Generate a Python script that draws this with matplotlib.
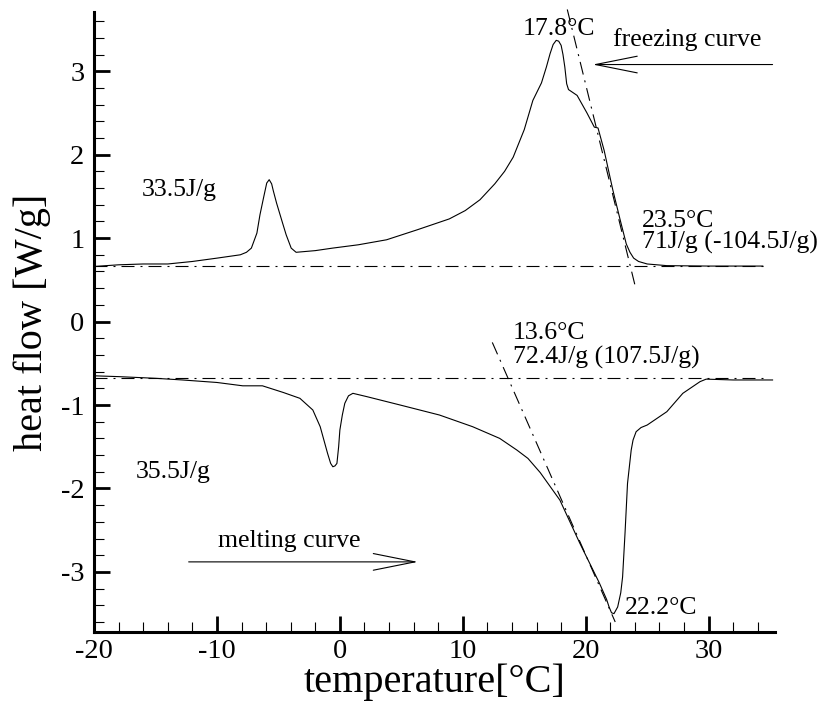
import matplotlib
matplotlib.use("Agg")
import matplotlib.pyplot as plt
from matplotlib.ticker import MultipleLocator

plt.rcParams['font.family'] = ['Liberation Serif', 'DejaVu Serif']
plt.rcParams['axes.unicode_minus'] = False

# freezing curve (upper)
T_freeze = [-20, -18, -16, -14, -12, -10, -8.1, -7.6, -7.2, -6.75, -6.5, -6.2, -5.95, -5.75,
            -5.55, -5.42, -5.15, -4.66, -4.37, -3.96, -3.56, -2.0, -0.6, 1.5, 3.8, 6.3, 8.9,
            10.2, 11.4, 12.6, 13.4, 14.1, 15.0, 15.7, 16.4, 16.8, 17.1, 17.35, 17.6, 17.8,
            18.0, 18.15, 18.3, 18.45, 18.6, 18.9, 19.3, 20.1, 20.7, 21.0, 21.5, 22.2, 22.8,
            23.3, 23.6, 23.9, 24.3, 25.0, 26.6, 30.0, 34.4]
H_freeze = [0.66, 0.68, 0.69, 0.69, 0.72, 0.76, 0.80, 0.83, 0.88, 1.06, 1.28, 1.49, 1.66, 1.70,
            1.65, 1.57, 1.42, 1.18, 1.04, 0.88, 0.83, 0.85, 0.88, 0.92, 0.98, 1.10, 1.23,
            1.33, 1.46, 1.65, 1.80, 1.97, 2.30, 2.65, 2.86, 3.05, 3.21, 3.32, 3.37, 3.36,
            3.31, 3.20, 3.05, 2.85, 2.78, 2.75, 2.71, 2.50, 2.33, 2.32, 2.05, 1.58, 1.22,
            0.93, 0.83, 0.76, 0.72, 0.69, 0.67, 0.665, 0.665]

# melting curve (lower)
T_melt = [-20, -18, -15, -12.8, -10, -7.9, -6.3, -4.6, -3.25, -2.2, -1.6, -1.3, -1.0, -0.75,
          -0.57, -0.4, -0.24, -0.1, 0.0, 0.2, 0.4, 0.7, 1.06, 2.2, 4.9, 8.1, 10.8, 13.0,
          14.4, 15.3, 16.3, 17.9, 19.5, 21.1, 21.7, 21.9, 22.1, 22.3, 22.6, 22.85, 23.0,
          23.2, 23.4, 23.7, 23.85, 24.1, 24.5, 25.0, 26.6, 27.9, 29.3, 29.8, 32.0, 35.2]
H_melt = [-0.65, -0.66, -0.68, -0.70, -0.73, -0.77, -0.77, -0.85, -0.92, -1.06, -1.26, -1.42,
          -1.58, -1.70, -1.74, -1.73, -1.70, -1.50, -1.30, -1.12, -0.98, -0.89, -0.86, -0.90,
          -1.00, -1.12, -1.26, -1.40, -1.54, -1.64, -1.81, -2.14, -2.65, -3.13, -3.33, -3.42,
          -3.49, -3.50, -3.42, -3.25, -3.06, -2.53, -1.94, -1.54, -1.42, -1.32, -1.27, -1.24,
          -1.08, -0.86, -0.72, -0.69, -0.70, -0.70]

# baselines and onset tangents
base_freeze_T, base_freeze_H = [-20, 34.4], [0.665, 0.665]
base_melt_T, base_melt_H = [-20, 34.7], [-0.677, -0.677]
tan_freeze_T, tan_freeze_H = [18.5, 24.0], [3.74, 0.44]
tan_melt_T, tan_melt_H = [12.4, 22.4], [-0.25, -3.60]

dashdot = (0, (11.7, 5.4, 1.8, 5.4))

fig = plt.figure(figsize=(8.19, 7.04), dpi=100)
ax = fig.add_axes([0.1148, 0.1023, 0.8315, 0.8807])

ax.plot(T_freeze, H_freeze, color='black', lw=0.8)
ax.plot(T_melt, H_melt, color='black', lw=0.8)
ax.plot(base_freeze_T, base_freeze_H, color='black', lw=0.8, ls=dashdot)
ax.plot(base_melt_T, base_melt_H, color='black', lw=0.8, ls=dashdot)
ax.plot(tan_freeze_T, tan_freeze_H, color='black', lw=0.8, ls=dashdot, clip_on=False)
ax.plot(tan_melt_T, tan_melt_H, color='black', lw=0.8, ls=dashdot)

ax.set_xlim(-20, 35.4)
ax.set_ylim(-3.72, 3.71)

for s in ['top', 'right']:
    ax.spines[s].set_visible(False)
for s in ['left', 'bottom']:
    ax.spines[s].set_linewidth(2.2)

ax.xaxis.set_major_locator(MultipleLocator(10))
ax.xaxis.set_minor_locator(MultipleLocator(2))
ax.yaxis.set_major_locator(MultipleLocator(1))
ax.yaxis.set_minor_locator(MultipleLocator(0.2))
ax.tick_params(which='major', direction='in', length=11.5, width=2.0, labelsize=20.5)
ax.tick_params(which='minor', direction='in', length=7, width=0.8)
ax.tick_params(axis='y', which='major', pad=7)
ax.tick_params(axis='x', which='major', pad=5)
ax.tick_params(top=False, right=False, which='both')

ax.set_xlabel('temperature[°C]', fontsize=29, labelpad=0)
ax.set_ylabel('heat flow [W/g]', fontsize=29, labelpad=7)

fs = 18.5
ax.text(14.9, 3.43, '17.8°C', fontsize=fs, va='baseline')
ax.text(22.2, 3.30, 'freezing curve', fontsize=fs, va='baseline')
ax.text(-16.1, 1.51, '33.5J/g', fontsize=fs, va='baseline')
ax.text(24.6, 1.13, '23.5°C', fontsize=fs, va='baseline')
ax.text(24.6, 0.88, '71J/g (-104.5J/g)', fontsize=fs, va='baseline', clip_on=False)
ax.text(14.07, -0.21, '13.6°C', fontsize=fs, va='baseline')
ax.text(14.07, -0.50, '72.4J/g (107.5J/g)', fontsize=fs, va='baseline')
ax.text(-16.6, -1.87, '35.5J/g', fontsize=fs, va='baseline')
ax.text(-9.9, -2.70, 'melting curve', fontsize=fs, va='baseline')
ax.text(23.2, -3.51, '22.2°C', fontsize=fs, va='baseline')

arrow = dict(arrowstyle='->,head_length=3.0,head_width=0.6', lw=0.8, color='black',
             shrinkA=0, shrinkB=0)
ax.annotate('', xy=(20.57, 3.08), xytext=(35.2, 3.08), arrowprops=arrow,
            annotation_clip=False)
ax.annotate('', xy=(6.34, -2.88), xytext=(-12.3, -2.88), arrowprops=arrow)

fig.savefig('out.png', dpi=100)
